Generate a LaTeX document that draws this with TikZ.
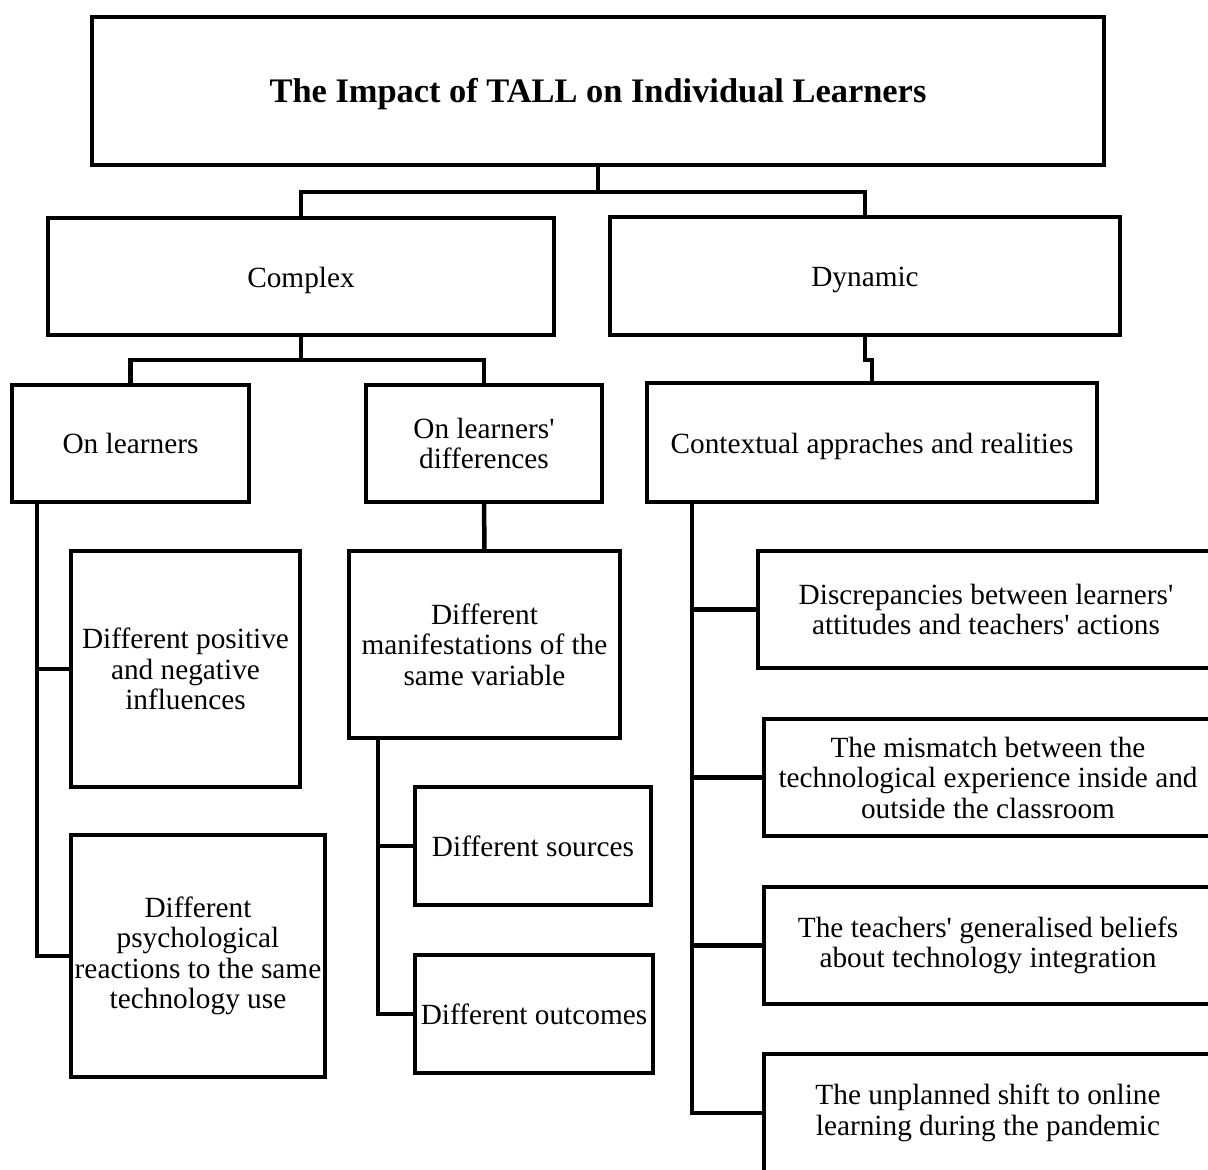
\documentclass[tikz,border=0pt]{standalone}
\usepackage{fontspec}
\setmainfont{Liberation Serif}[Ligatures=TeXOff]
\newcommand{\lowr}[1]{\raisebox{-3.5pt}[\height][\depth]{#1}}
\begin{document}
\begin{tikzpicture}[x=1pt,y=-1pt,
  box/.style={draw, line width=4.5pt, outer sep=0pt, inner sep=0pt, align=center,
    font=\fontsize{29.3}{30.5}\selectfont},
  conn/.style={line width=4.5pt}]
\useasboundingbox (0,0) rectangle (1208,1170);
\clip (0,0) rectangle (1208,1170);
\fill[white] (0,0) rectangle (1208,1170);
% boxes
\node[box, minimum width=1012pt, minimum height=148pt, font=\fontsize{34.4}{40}\selectfont\bfseries] (title) at (598,91) {\lowr{The Impact of TALL on Individual Learners}};
\node[box, minimum width=506pt, minimum height=117pt] (complex) at (301,276.5) {\lowr{Complex}};
\node[box, minimum width=510pt, minimum height=118pt] (dynamic) at (865,276) {\lowr{Dynamic}};
\node[box, minimum width=237pt, minimum height=117pt] (onl) at (130.5,443.5) {On learners};
\node[box, minimum width=236pt, minimum height=117pt] (ond) at (484,443.5) {On learners'\\differences};
\node[box, minimum width=450pt, minimum height=119pt] (ctx) at (872,442.5) {\lowr{Contextual appraches and realities}};
\node[box, minimum width=229pt, minimum height=236pt] (dpn) at (185.5,669) {Different positive\\and negative\\influences};
\node[box, minimum width=254pt, minimum height=242pt] (dpr) at (198,956) {Different\\psychological\\reactions to the same\\technology use};
\node[box, minimum width=271pt, minimum height=187pt] (dman) at (484.5,644.5) {Different\\manifestations of the\\same variable};
\node[box, minimum width=236pt, minimum height=118pt] (dsrc) at (533,846) {Different sources};
\node[box, minimum width=238pt, minimum height=118pt] (dout) at (534,1014) {Different outcomes};
\node[box, minimum width=456pt, minimum height=117pt] (r1) at (986,609.5) {Discrepancies between learners'\\attitudes and teachers' actions};
\node[box, minimum width=448pt, minimum height=117pt] (r2) at (988,777.5) {The mismatch between the\\technological experience inside and\\outside the classroom};
\node[box, minimum width=448pt, minimum height=117pt] (r3) at (988,945.5) {The teachers' generalised beliefs\\about technology integration};
\node[box, minimum width=448pt, minimum height=118pt] (r4) at (988,1113) {The unplanned shift to online\\learning during the pandemic};
% junctions
\coordinate (j1) at (598,192);
\coordinate (j2) at (301,360);
\coordinate (j3) at (872,360);
\coordinate (v1) at ([xshift=25pt]onl.south west);
\coordinate (v2) at ([xshift=29pt]dman.south west);
\coordinate (v3) at ([xshift=45pt]ctx.south west);
% connectors
\draw[conn] (title.south) -- (j1);
\draw[conn] (complex.north) |- (j1) -| (dynamic.north);
\draw[conn] (complex.south) -- (j2);
\draw[conn] (onl.north) |- (j2) -| (ond.north);
\draw[conn] (dynamic.south) |- (j3) -- (ctx.north);
\draw[conn] (v1) |- (dpr.west);
\draw[conn] (dpn.west) -- (dpn.west -| v1);
\draw[conn] (ond.south) -- (dman.north);
\draw[conn] (v2) |- (dout.west);
\draw[conn] (dsrc.west) -- (dsrc.west -| v2);
\draw[conn] (v3) |- (r4.west);
\draw[conn] (r1.west) -- (r1.west -| v3);
\draw[conn] (r2.west) -- (r2.west -| v3);
\draw[conn] (r3.west) -- (r3.west -| v3);
\end{tikzpicture}
\end{document}
